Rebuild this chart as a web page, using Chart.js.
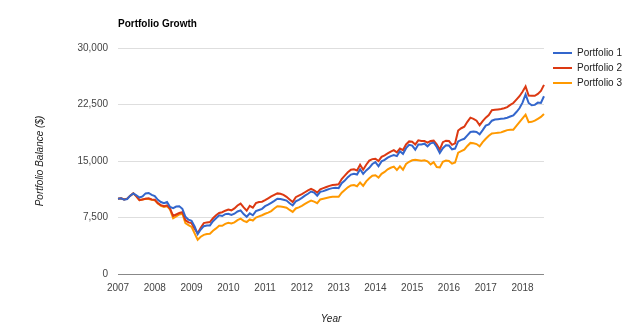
<!DOCTYPE html>
<html>
<head>
<meta charset="utf-8">
<script src="https://cdn.jsdelivr.net/npm/chart.js@4/dist/chart.umd.min.js"></script>
<style>
  html, body { margin:0; padding:0; background:#fff; }
  #wrap { width:640px; height:335px; position:relative; }
</style>
</head>
<body>
<div id="wrap"><canvas id="growth"></canvas></div>
<script>
// month-end balances, starting balance first (Jan 2007) through Jul 2018
const startYear = 2007;
const years = ['2007','2008','2009','2010','2011','2012','2013','2014','2015','2016','2017','2018'];

const portfolio1 = [
  10000,10050,9850,9950,10400,10700,10450,10150,10300,10700,10750,10500,
  10350,9850,9550,9400,9550,8900,8750,8950,9000,8650,7600,7200,
  7050,6300,5300,5900,6350,6450,6450,7000,7400,7800,7700,7950,
  8000,7850,8000,8300,8450,7950,7600,8050,7800,8350,8500,8650,
  9000,9200,9450,9700,10000,9950,9850,9750,9400,9100,9650,9850,
  10100,10400,10650,10950,10800,10400,10900,11000,11150,11300,11400,11450,
  11400,12050,12400,12850,13200,13300,13200,13900,13300,13750,14100,14600,
  14850,14300,14950,15150,15450,15650,15800,15650,16300,15950,16700,17150,
  17050,16500,17200,17200,17300,16950,17350,17450,16850,16050,16700,17100,
  17050,16550,16650,17600,17800,17950,18400,18850,18900,18850,18550,19100,
  19700,19850,20350,20500,20550,20600,20650,20750,20900,21050,21500,22000,
  22750,23850,22700,22400,22450,22750,22700,23600
];
const portfolio2 = [
  10000,10050,9900,10000,10400,10700,10300,9800,9900,10000,10050,9900,
  9850,9400,9150,9000,9100,8650,7700,7900,8100,8200,7150,6850,
  6750,6000,5400,6150,6750,6850,6900,7400,7800,8100,8200,8400,
  8550,8450,8700,9100,9350,8850,8400,9050,8800,9400,9550,9600,
  9800,10050,10300,10500,10700,10650,10500,10250,9900,9550,10200,10400,
  10600,10850,11100,11300,11100,10800,11250,11400,11550,11700,11800,11850,
  11900,12600,13050,13500,13850,13900,13750,14500,13850,14500,15050,15250,
  15300,15000,15550,15750,16000,16250,16450,16150,16650,16450,17200,17600,
  17550,17200,17750,17650,17650,17450,17650,17700,17200,16500,17500,17700,
  17650,17150,17350,19050,19350,19550,20200,20750,20600,20350,19750,20300,
  20750,21100,21750,21800,21850,21900,22000,22150,22450,22700,23150,23600,
  24200,24900,23700,23650,23650,23900,24300,25100
];
const portfolio3 = [
  10000,10050,9900,10000,10400,10700,10300,9800,9900,10000,9950,9850,
  9800,9350,9050,8900,9000,8550,7400,7650,7900,8000,6750,6500,
  6250,5400,4550,4950,5200,5300,5350,5750,6050,6400,6400,6650,
  6800,6700,6850,7150,7350,7050,6900,7250,7100,7500,7650,7800,
  8000,8150,8350,8700,9000,8950,8900,8800,8500,8250,8700,8850,
  9050,9300,9550,9750,9600,9400,9900,10000,10100,10200,10250,10250,
  10250,10800,11150,11500,11750,11800,11650,12150,11700,12300,12700,13050,
  13100,12800,13300,13550,13900,14100,14250,13800,14300,13850,14600,14900,
  15100,15150,15100,15050,15100,14950,14550,14850,14200,14150,14900,15050,
  15000,14650,14800,16100,16300,16500,17000,17400,17350,17250,16950,17500,
  17950,18350,18650,18700,18750,18800,18950,19100,19150,19150,19650,20150,
  20650,21150,20150,20200,20350,20600,20850,21250
];

const seriesNames = ['Portfolio 1','Portfolio 2','Portfolio 3'];
const seriesColors = ['#3366cc','#dc3912','#ff9900'];

const months = portfolio1.map((_, i) => `${startYear + Math.floor(i / 12)}-${String(i % 12 + 1).padStart(2, '0')}`);

const baseFont = { family:'Arial, "Liberation Sans", sans-serif', size:10 };

new Chart(document.getElementById('growth'), {
  type:'line',
  data:{
    labels: months,
    datasets:[portfolio1, portfolio2, portfolio3].map((vals, i) => ({
      label: seriesNames[i],
      data: vals,
      borderColor: seriesColors[i],
      backgroundColor: seriesColors[i],
      borderWidth: 2,
      pointRadius: 0,
      tension: 0,
      fill: false
    }))
  },
  options:{
    responsive:true,
    maintainAspectRatio:false,
    animation:false,
    layout:{ padding:{ left:0, right:8, top:0, bottom:0 } },
    plugins:{
      tooltip:{ enabled:false },
      title:{
        display:true,
        text:'Portfolio Growth',
        align:'start',
        fullSize:false,
        color:'#000',
        font:{ ...baseFont, weight:'bold', lineHeight:1.2 },
        padding:{ top:18, bottom:18 }
      },
      legend:{
        position:'right',
        align:'start',
        fullSize:true,
        title:{ display:true, text:' ', font:{ ...baseFont, lineHeight:1.2 }, padding:{ top:31, bottom:0 } },
        labels:{
          usePointStyle:true,
          pointStyle:'line',
          pointStyleWidth:19,
          padding:5,
          color:'#222',
          font:{ ...baseFont }
        }
      }
    },
    scales:{
      x:{
        type:'category',
        offset:false,
        grid:{ display:false },
        border:{ display:false },
        afterFit: s => { s.height = 61; },
        ticks:{
          autoSkip:false,
          maxRotation:0,
          padding:0,
          color:'#444',
          font:{ ...baseFont },
          callback: (v, i) => i % 12 === 0 ? years[i / 12] : null
        },
        title:{
          display:true,
          text:'Year',
          color:'#222',
          font:{ ...baseFont, style:'italic', lineHeight:1.2 },
          padding:{ top:0, bottom:10 }
        }
      },
      y:{
        min:0,
        max:30000,
        afterFit: s => { s.width = 118; },
        border:{ display:false },
        grid:{
          drawTicks:false,
          lineWidth:1,
          color: ctx => ctx.tick && ctx.tick.value === 0 ? '#888' : '#dedede'
        },
        ticks:{
          stepSize:7500,
          padding:10,
          color:'#444',
          font:{ ...baseFont },
          callback: v => v.toLocaleString('en-US')
        },
        title:{
          display:true,
          text:'Portfolio Balance ($)',
          color:'#222',
          font:{ ...baseFont, style:'italic', lineHeight:1.2 },
          padding:{ top:34, bottom:0 }
        }
      },
      gap:{
        // narrow spacer between plot and legend
        position:'right',
        type:'linear',
        display:true,
        afterFit: s => { s.width = 4; },
        grid:{ display:false },
        border:{ display:false },
        ticks:{ display:false }
      }
    }
  }
});
</script>
</body>
</html>
